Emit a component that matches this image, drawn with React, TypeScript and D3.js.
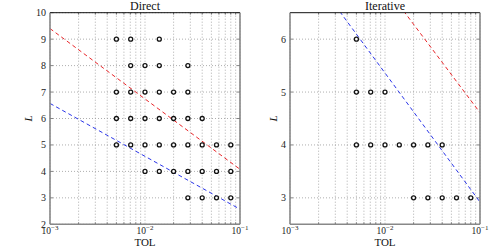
import React from "react";
import * as d3 from "d3";

const tolValues = [0.005, 0.00707, 0.01, 0.01414, 0.02, 0.02828, 0.04, 0.05657, 0.08];

// Direct: for each L, indices into tolValues
const directL = [9, 8, 7, 6, 5, 4, 3];
const directTolIdx = [
  [0, 1, 3],
  [1, 2, 3, 5],
  [0, 1, 2, 3, 4, 5],
  [0, 1, 2, 3, 4, 5, 6],
  [0, 1, 2, 3, 4, 5, 6, 7, 8],
  [2, 3, 4, 5, 6, 7, 8],
  [5, 6, 7, 8],
];
const directRed: [number, number][] = [[0.001, 9.4], [0.1, 4.08]];
const directBlue: [number, number][] = [[0.001, 6.57], [0.1, 2.57]];

const iterL = [6, 5, 4, 3];
const iterTolIdx = [
  [0],
  [0, 1, 2],
  [0, 1, 2, 3, 4, 5, 6],
  [4, 5, 6, 7, 8],
];
const iterRed: [number, number][] = [[0.001, 9.39], [0.1, 4.61]];
const iterBlue: [number, number][] = [[0.001, 7.8], [0.1, 2.92]];

const directYTicks = [2, 3, 4, 5, 6, 7, 8, 9, 10];
const iterYTicks = [3, 4, 5, 6];
const xMajor = [-3, -2, -1];

const serif = "'Liberation Serif', 'DejaVu Serif', serif";

type PanelProps = {
  x0: number;
  x1: number;
  y0: number;
  y1: number;
  yDomain: [number, number];
  yTicks: number[];
  title: string;
  Ls: number[];
  idx: number[][];
  red: [number, number][];
  blue: [number, number][];
  clipId: string;
  labelOffset: number;
};

function Panel(p: PanelProps) {
  const xs = d3.scaleLog().domain([0.001, 0.1]).range([p.x0, p.x1]);
  const ys = d3.scaleLinear().domain(p.yDomain).range([p.y1, p.y0]);
  const minor: number[] = [];
  for (const e of [-3, -2]) for (let k = 2; k <= 9; k++) minor.push(k * Math.pow(10, e));
  const line = d3
    .line<[number, number]>()
    .x((d) => xs(d[0]))
    .y((d) => ys(d[1]));
  const pts: { t: number; L: number }[] = [];
  p.Ls.forEach((L, i) => p.idx[i].forEach((j) => pts.push({ t: tolValues[j], L })));
  const cx = (p.x0 + p.x1) / 2;
  const cy = (p.y0 + p.y1) / 2;
  const lx = p.x0 - p.labelOffset;
  return (
    <g>
      <defs>
        <clipPath id={p.clipId}>
          <rect x={p.x0} y={p.y0} width={p.x1 - p.x0} height={p.y1 - p.y0} />
        </clipPath>
      </defs>
      {[...minor, ...xMajor.map((e) => Math.pow(10, e))].map((t, i) => (
        <line key={"gx" + i} x1={xs(t)} x2={xs(t)} y1={p.y0} y2={p.y1} stroke="#999" strokeWidth={0.8} strokeDasharray="1,2" />
      ))}
      {p.yTicks.map((t) => (
        <line key={"gy" + t} x1={p.x0} x2={p.x1} y1={ys(t)} y2={ys(t)} stroke="#999" strokeWidth={0.8} strokeDasharray="1,2" />
      ))}
      {minor.map((t, i) => (
        <g key={"mt" + i}>
          <line x1={xs(t)} x2={xs(t)} y1={p.y1} y2={p.y1 - 2} stroke="#333" strokeWidth={0.6} />
          <line x1={xs(t)} x2={xs(t)} y1={p.y0} y2={p.y0 + 2} stroke="#333" strokeWidth={0.6} />
        </g>
      ))}
      {p.yTicks.map((t) => (
        <g key={"yt" + t}>
          <line x1={p.x0} x2={p.x0 + 3} y1={ys(t)} y2={ys(t)} stroke="#333" strokeWidth={0.6} />
          <line x1={p.x1} x2={p.x1 - 3} y1={ys(t)} y2={ys(t)} stroke="#333" strokeWidth={0.6} />
          <text x={p.x0 - 4} y={ys(t) + 3.5} textAnchor="end" fontFamily={serif} fontSize={10} fill="#222">
            {t}
          </text>
        </g>
      ))}
      {xMajor.map((e) => (
        <text key={"xl" + e} x={xs(Math.pow(10, e))} y={p.y1 + 10} textAnchor="middle" fontFamily={serif} fontSize={9.5} fill="#222">
          10<tspan dy={-4} fontSize={7}>{"\u2212" + -e}</tspan>
        </text>
      ))}
      <g clipPath={`url(#${p.clipId})`}>
        <path d={line(p.red) || ""} stroke="#e8262a" strokeWidth={1} strokeDasharray="4,3" fill="none" />
        <path d={line(p.blue) || ""} stroke="#2a35e8" strokeWidth={1} strokeDasharray="4,3" fill="none" />
      </g>
      {pts.map((d, i) => (
        <circle key={"p" + i} cx={xs(d.t)} cy={ys(d.L)} r={2} fill="white" stroke="#111" strokeWidth={1.3} />
      ))}
      <line x1={p.x0} x2={p.x1} y1={p.y0} y2={p.y0} stroke="#111" strokeWidth={1} />
      <line x1={p.x0} x2={p.x0} y1={p.y0} y2={p.y1} stroke="#888" strokeWidth={1.6} />
      <line x1={p.x1} x2={p.x1} y1={p.y0} y2={p.y1} stroke="#888" strokeWidth={1.6} />
      <line x1={p.x0} x2={p.x1} y1={p.y1} y2={p.y1} stroke="#888" strokeWidth={1.6} />
      <text x={cx} y={10} textAnchor="middle" fontFamily={serif} fontSize={12} fill="#111">
        {p.title}
      </text>
      <text x={cx} y={246} textAnchor="middle" fontFamily={serif} fontSize={11} fill="#111">
        TOL
      </text>
      <text
        x={lx}
        y={cy}
        textAnchor="middle"
        fontFamily={serif}
        fontStyle="italic"
        fontSize={11}
        fill="#111"
        transform={`rotate(-90, ${lx}, ${cy})`}
      >
        L
      </text>
    </g>
  );
}

export default function App() {
  return (
    <svg width={500} height={250} style={{ position: "absolute", left: 0, top: 0, background: "white" }}>
      <Panel
        x0={50}
        x1={240}
        y0={12.7}
        y1={224.3}
        yDomain={[2, 10]}
        yTicks={directYTicks}
        title="Direct"
        Ls={directL}
        idx={directTolIdx}
        red={directRed}
        blue={directBlue}
        clipId="c1"
        labelOffset={18}
      />
      <Panel
        x0={290}
        x1={480}
        y0={12.7}
        y1={224.3}
        yDomain={[2.5, 6.5]}
        yTicks={iterYTicks}
        title="Iterative"
        Ls={iterL}
        idx={iterTolIdx}
        red={iterRed}
        blue={iterBlue}
        clipId="c2"
        labelOffset={13}
      />
    </svg>
  );
}
